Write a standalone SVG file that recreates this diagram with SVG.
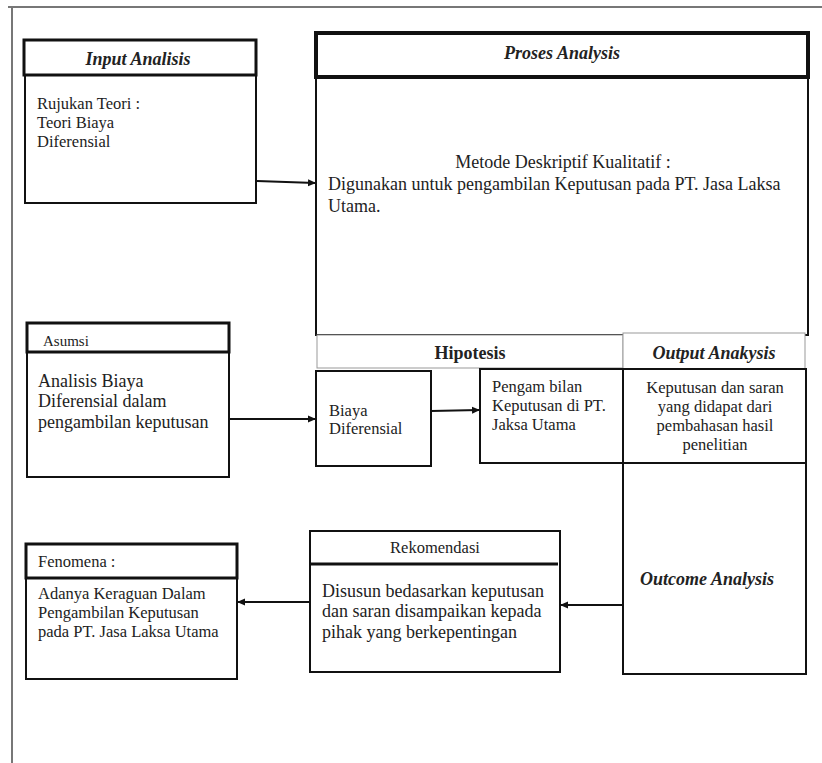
<svg xmlns="http://www.w3.org/2000/svg" width="822" height="763" viewBox="0 0 822 763">
<style>
text{font-family:"Liberation Serif","Times New Roman",serif;fill:#222}
.t{font-size:18px}
.s{font-size:16.5px}
.bi{font-weight:bold;font-style:italic}
.b{font-weight:bold}
.box{fill:#fff;stroke:#111;stroke-width:2}
.hd{fill:#fff;stroke:#111;stroke-width:3}
.gr{fill:#fff;stroke:#999;stroke-width:1}
.c{stroke:#111;stroke-width:2;fill:none;marker-end:url(#ah)}
</style>
<defs>
<marker id="ah" markerWidth="8" markerHeight="8" refX="7" refY="4" orient="auto" markerUnits="userSpaceOnUse">
<path d="M0,0.5 L8,4 L0,7.5 Z" fill="#111"/>
</marker>
</defs>
<rect width="822" height="763" fill="#fff"/>
<line x1="8" y1="7" x2="822" y2="7" stroke="#777" stroke-width="2"/>
<line x1="12" y1="7" x2="12" y2="763" stroke="#777" stroke-width="2"/>

<g id="input">
<rect class="box" x="25" y="75" width="231" height="128"/>
<rect class="hd" x="24" y="40" width="232" height="35"/>
<text class="t bi" x="138" y="65" text-anchor="middle">Input Analisis</text>
<text class="s" x="37" y="109">Rujukan Teori :</text>
<text class="s" x="37" y="128">Teori Biaya</text>
<text class="s" x="37" y="147">Diferensial</text>
</g>

<g id="proses">
<rect class="box" x="316" y="77" width="492" height="258"/>
<rect x="316" y="33" width="492" height="44" fill="#fff" stroke="#111" stroke-width="4"/>
<text class="t bi" x="562" y="59" text-anchor="middle">Proses Analysis</text>
<text class="t" x="563" y="168" text-anchor="middle">Metode Deskriptif Kualitatif :</text>
<text class="t" x="328" y="190">Digunakan untuk pengambilan Keputusan pada PT. Jasa Laksa</text>
<text class="t" x="328" y="212">Utama.</text>
</g>

<g id="hipotesis">
<rect class="gr" x="317" y="335" width="306" height="33"/>
<text class="t b" x="470" y="359" text-anchor="middle">Hipotesis</text>
</g>

<g id="output-header">
<rect class="gr" x="623" y="333" width="182" height="36"/>
<text class="t bi" x="714" y="359" text-anchor="middle">Output Anakysis</text>
</g>

<g id="output">
<rect class="box" x="623" y="369" width="183" height="94"/>
<text class="s" x="715" y="393" text-anchor="middle">Keputusan dan saran</text>
<text class="s" x="715" y="412" text-anchor="middle">yang didapat dari</text>
<text class="s" x="715" y="431" text-anchor="middle">pembahasan hasil</text>
<text class="s" x="715" y="450" text-anchor="middle">penelitian</text>
</g>

<g id="outcome">
<rect class="box" x="623" y="463" width="183" height="211"/>
<text class="t bi" x="707" y="585" text-anchor="middle">Outcome Analysis</text>
</g>

<g id="biaya">
<rect class="box" x="316" y="371" width="115" height="95"/>
<text class="s" x="329" y="416">Biaya</text>
<text class="s" x="329" y="434">Diferensial</text>
</g>

<g id="pengambilan">
<rect class="box" x="480" y="369" width="143" height="94"/>
<text class="s" x="492" y="392">Pengam bilan</text>
<text class="s" x="492" y="411">Keputusan di PT.</text>
<text class="s" x="492" y="430">Jaksa Utama</text>
</g>

<g id="asumsi">
<rect class="box" x="27" y="352" width="202" height="125"/>
<rect class="hd" x="27" y="323" width="202" height="29"/>
<text x="43" y="346" font-size="15">Asumsi</text>
<text class="t" x="38" y="387">Analisis Biaya</text>
<text class="t" x="38" y="407">Diferensial dalam</text>
<text class="t" x="38" y="428">pengambilan keputusan</text>
</g>

<g id="fenomena">
<rect class="box" x="26" y="578" width="211" height="101"/>
<rect class="hd" x="26" y="544" width="211" height="34"/>
<text class="s" x="38" y="567">Fenomena :</text>
<text class="s" x="38" y="599">Adanya Keraguan Dalam</text>
<text class="s" x="38" y="618">Pengambilan Keputusan</text>
<text class="s" x="38" y="637">pada PT. Jasa Laksa Utama</text>
</g>

<g id="rekomendasi">
<rect class="box" x="310" y="531" width="250" height="141"/>
<line x1="310" y1="564" x2="558" y2="564" stroke="#111" stroke-width="3"/>
<text class="s" x="435" y="553" text-anchor="middle">Rekomendasi</text>
<text class="t" x="322" y="597">Disusun bedasarkan keputusan</text>
<text class="t" x="322" y="617">dan saran disampaikan kepada</text>
<text class="t" x="322" y="638">pihak yang berkepentingan</text>
</g>

<g id="connectors">
<line class="c" x1="257" y1="181" x2="315" y2="183"/>
<line class="c" x1="229" y1="419" x2="315" y2="419"/>
<line class="c" x1="431" y1="411" x2="479" y2="410"/>
<line class="c" x1="622" y1="605" x2="561" y2="605"/>
<line class="c" x1="310" y1="602" x2="238" y2="602"/>
</g>
</svg>
